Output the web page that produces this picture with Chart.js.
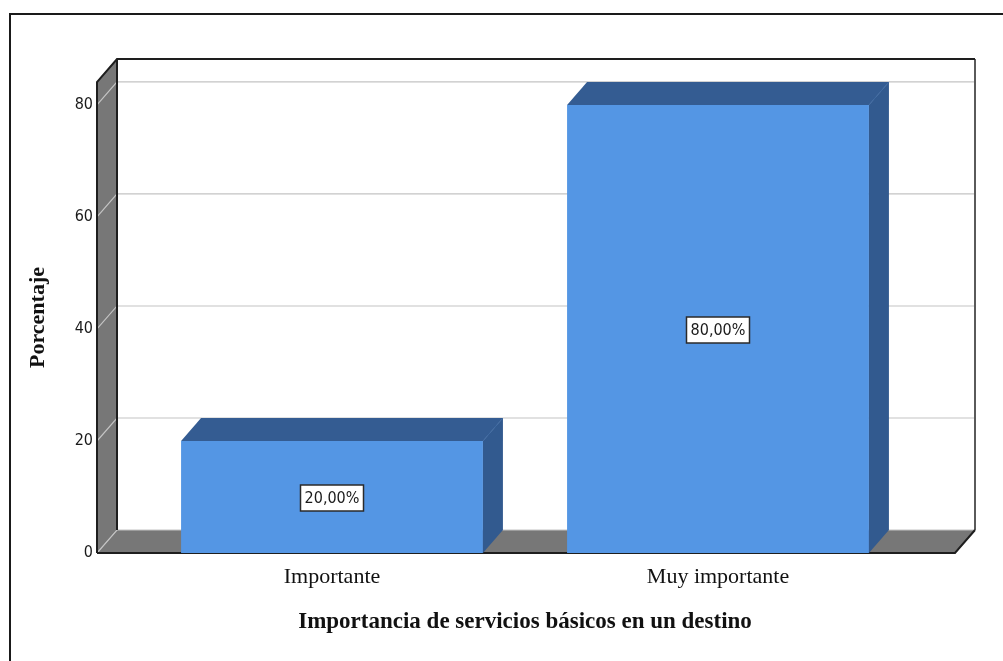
<!DOCTYPE html>
<html>
<head>
<meta charset="utf-8">
<script src="https://cdn.jsdelivr.net/npm/chart.js@4.4.1/dist/chart.umd.min.js"></script>
<style>
  html, body { margin: 0; padding: 0; background: #fff; overflow: hidden; }
  #frame { position: absolute; left: 9px; top: 13px; width: 1100px; height: 700px;
           border-left: 2px solid #1a1a1a; border-top: 2px solid #1a1a1a; }
  #c { position: absolute; left: 0; top: 0; }
</style>
</head>
<body>
<div id="frame"></div>
<canvas id="c" width="1003" height="661"></canvas>
<script>
const categories = ['Importante', 'Muy importante'];
const percentages = [20, 80];
const yTickValues = [0, 20, 40, 60, 80];
const yMax = 84.1;
const xTitle = 'Importancia de servicios básicos en un destino';
const yTitle = 'Porcentaje';

const SERIF = "'Liberation Serif', 'Times New Roman', serif";
const SANS = "'DejaVu Sans Condensed', 'DejaVu Sans', sans-serif";

// décalage de profondeur (effet 3D)
const DX = 20, DY = -23;
const EXT_L = 42, EXT_R = 44;

function poly(ctx, pts, fill) {
  ctx.beginPath();
  ctx.moveTo(pts[0][0], pts[0][1]);
  for (let i = 1; i < pts.length; i++) ctx.lineTo(pts[i][0], pts[i][1]);
  ctx.closePath();
  ctx.fillStyle = fill;
  ctx.fill();
}

function line(ctx, pts, color, w) {
  ctx.beginPath();
  ctx.moveTo(pts[0][0], pts[0][1]);
  for (let i = 1; i < pts.length; i++) ctx.lineTo(pts[i][0], pts[i][1]);
  ctx.strokeStyle = color;
  ctx.lineWidth = w;
  ctx.stroke();
}

const box3d = {
  id: 'box3d',
  beforeDatasetsDraw(chart) {
    const { ctx, chartArea } = chart;
    const yScale = chart.scales.y;
    const x0 = chartArea.left - EXT_L, x1 = chartArea.right + EXT_R;
    const top = chartArea.top, bottom = chartArea.bottom;
    ctx.save();
    // mur gauche + sol
    poly(ctx, [[x0, top], [x0 + DX, top + DY], [x0 + DX, bottom + DY], [x0, bottom]], '#777777');
    poly(ctx, [[x0, bottom], [x0 + DX, bottom + DY], [x1 + DX, bottom + DY], [x1, bottom]], '#777777');
    // lignes de grille
    yTickValues.forEach(v => {
      const y = yScale.getPixelForValue(v);
      line(ctx, [[x0, y], [x0 + DX, y + DY], [x1 + DX, y + DY]], '#c4c4c4', 1.2);
    });
    // contours
    line(ctx, [[x1 + DX, top + DY], [x1 + DX, bottom + DY]], '#5a5a5a', 2);
    line(ctx, [[x0, bottom], [x0, top], [x0 + DX, top + DY], [x1 + DX, top + DY]], '#1e1e1e', 2);
    line(ctx, [[x0 + DX, top + DY], [x0 + DX, bottom + DY]], '#1e1e1e', 2);
    line(ctx, [[x0, bottom], [x1, bottom], [x1 + DX, bottom + DY]], '#1e1e1e', 2);
    ctx.restore();
  },
  afterDatasetsDraw(chart) {
    const { ctx } = chart;
    const meta = chart.getDatasetMeta(0);
    ctx.save();
    meta.data.forEach((bar, i) => {
      const l = bar.x - bar.width / 2, r = bar.x + bar.width / 2;
      const y = bar.y, b = bar.base;
      poly(ctx, [[l, y], [l + DX, y + DY], [r + DX, y + DY], [r, y]], '#345c92');
      poly(ctx, [[r, y], [r + DX, y + DY], [r + DX, b + DY], [r, b]], '#325a8f');
      line(ctx, [[r, y], [r + DX, y + DY]], '#3d68a0', 1);

      // étiquette de valeur
      const txt = percentages[i].toFixed(2).replace('.', ',') + '%';
      ctx.font = '16px ' + SANS;
      const tw = ctx.measureText(txt).width;
      const bw = Math.round(tw + 8), bh = 26;
      const cx = Math.round(bar.x), cy = Math.round((y + b) / 2) + 1;
      ctx.fillStyle = '#ffffff';
      ctx.fillRect(cx - bw / 2, cy - bh / 2, bw, bh);
      ctx.strokeStyle = '#2a2a2a';
      ctx.lineWidth = 1.5;
      ctx.strokeRect(cx - bw / 2, cy - bh / 2, bw, bh);
      ctx.fillStyle = '#1a1a1a';
      ctx.textAlign = 'center';
      ctx.textBaseline = 'middle';
      ctx.fillText(txt, cx, cy + 1);
    });
    ctx.restore();
  }
};

const ctx = document.getElementById('c').getContext('2d');
new Chart(ctx, {
  type: 'bar',
  data: {
    labels: categories,
    datasets: [{
      data: percentages,
      backgroundColor: '#5496e4',
      borderWidth: 0,
      categoryPercentage: 1,
      barPercentage: 0.782
    }]
  },
  options: {
    responsive: false,
    animation: false,
    layout: { padding: { top: 82, right: 92, bottom: 0, left: 0 } },
    plugins: { legend: { display: false }, tooltip: { enabled: false } },
    scales: {
      x: {
        grid: { display: false, drawTicks: false },
        border: { display: false },
        ticks: { padding: 11, color: '#111', font: { family: SERIF, size: 22 } },
        title: { display: true, text: xTitle, color: '#111',
                 font: { family: SERIF, size: 23, weight: 'bold' }, padding: { top: 0, bottom: 25 } },
        afterFit: s => { s.height = 108; }
      },
      y: {
        min: 0,
        max: yMax,
        afterBuildTicks: s => { s.ticks = yTickValues.map(v => ({ value: v })); },
        grid: { display: false, drawTicks: false },
        border: { display: false },
        ticks: { padding: 46, color: '#1a1a1a', font: { family: SANS, size: 16 } },
        title: { display: true, text: yTitle, color: '#111',
                 font: { family: SERIF, size: 22, weight: 'bold' }, padding: { top: 25, bottom: 0 } },
        afterFit: s => { s.width = 139; }
      }
    }
  },
  plugins: [box3d]
});
</script>
</body>
</html>
